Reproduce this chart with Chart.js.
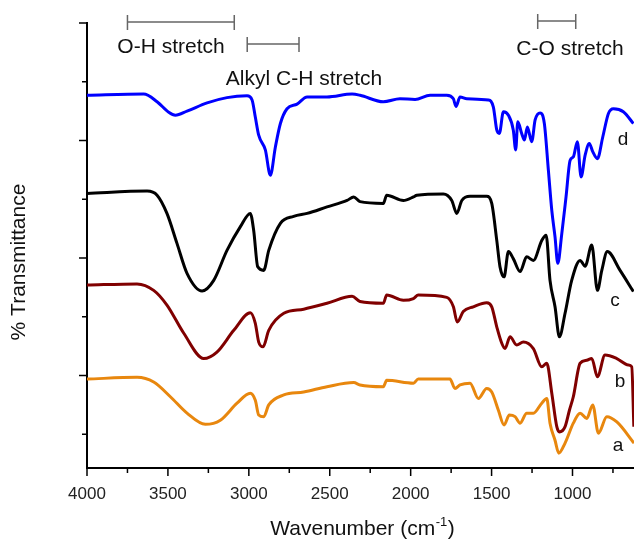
<!DOCTYPE html>
<html>
<head>
<meta charset="utf-8">
<script src="https://cdn.jsdelivr.net/npm/chart.js@4.4.0/dist/chart.umd.min.js"></script>
<style>
  html, body { margin: 0; padding: 0; background: #fff; }
</style>
</head>
<body>
<canvas id="ftir" width="634" height="539"></canvas>
<script>
// ===== FTIR spectra a-d =====
const wnA = [4000,3691,3588,3485,3382,3269,3176,3073,2991,2960,2939,2908,2877,2784,2661,2517,2352,2313,2169,2148,1983,1953,1757,1726,1695,1633,1582,1530,1499,1458,1423,1390,1355,1324,1283,1242,1190,1159,1139,1108,1085,1046,995,953,912,875,840,788,726,620];
const tA = [19.4,19.7,18.9,16.4,13.6,11.7,12.4,15.3,17.0,15.8,13.3,13.0,15.0,16.7,17.2,18.1,18.8,18.4,18.1,19.2,18.7,19.4,19.4,17.8,18.4,18.7,16.1,17.8,17.2,14.1,11.6,13.3,13.0,11.9,13.6,13.6,15.3,16.1,11.9,9.0,6.8,8.5,11.9,13.6,12.7,15.0,10.2,13.0,12.1,8.5];

const wnB = [4000,3691,3588,3506,3402,3279,3197,3093,2991,2960,2939,2912,2877,2784,2661,2517,2362,2313,2169,2148,2045,1983,1953,1777,1736,1712,1675,1613,1530,1499,1468,1437,1417,1386,1345,1304,1242,1190,1159,1128,1097,1081,1046,1019,995,953,912,881,846,799,726,655,634,621];
const tB = [35.4,35.6,34.5,32.0,27.2,22.9,24.0,27.7,30.7,28.9,25.7,24.9,27.7,30.6,31.3,32.3,33.5,32.6,32.3,33.7,32.8,33.1,33.7,33.3,31.7,29.1,30.9,31.7,32.4,31.7,28.3,25.5,24.6,26.6,25.2,25.7,24.6,21.5,22.1,17.0,11.3,10.4,11.3,14.1,16.4,22.1,22.6,22.9,19.8,23.5,22.9,21.8,21.5,11.3];

const wnC = [4000,3629,3567,3506,3444,3382,3289,3217,3135,3053,2991,2970,2945,2908,2877,2805,2723,2640,2517,2393,2352,2313,2169,2148,2045,1983,1962,1798,1746,1715,1684,1633,1530,1499,1468,1448,1423,1396,1366,1324,1283,1242,1190,1163,1139,1108,1081,1046,1005,953,922,881,846,819,785,706,624];
const tC = [51.0,51.4,50.7,47.6,42.5,37.4,34.4,36.2,41.3,45.3,47.6,44.7,38.5,37.9,41.3,45.9,47.1,47.6,48.7,49.8,50.4,49.6,49.3,50.7,49.8,50.4,50.7,50.9,49.8,47.6,49.8,50.5,50.5,49.3,43.0,38.5,36.8,41.1,39.9,37.7,40.2,39.6,43.0,43.9,36.2,31.7,26.6,30.6,36.2,39.6,38.6,42.2,34.5,37.9,41.1,37.9,34.3];

const wnD = [4000,3650,3567,3495,3454,3382,3258,3135,3011,2980,2960,2939,2898,2867,2836,2805,2764,2702,2640,2517,2362,2313,2169,2066,1973,1880,1777,1736,1720,1695,1653,1520,1489,1468,1452,1427,1396,1366,1351,1338,1314,1297,1279,1252,1231,1200,1174,1149,1128,1108,1091,1066,1040,1015,995,970,947,922,896,875,846,813,778,747,686,624];
const tD = [67.7,67.9,66.6,64.8,64.3,65.0,66.4,67.3,67.6,66.9,64.0,60.9,58.4,54.1,58.9,62.9,65.4,66.2,67.4,67.4,67.9,67.7,66.6,67.1,67.0,67.7,67.7,67.1,65.8,67.4,67.1,66.9,65.7,61.8,61.2,64.9,64.3,61.8,58.4,63.2,61.2,60.1,62.3,59.8,63.5,64.7,62.9,54.9,48.1,43.6,39.1,44.2,50.4,56.6,57.2,59.8,53.8,57.5,59.5,58.1,56.9,60.6,64.6,65.4,64.9,62.9];

const seriesLabels = ['a', 'b', 'c', 'd'];
const seriesColors = ['#e8870e', '#800000', '#000000', '#0000ff'];

const xTicks = [4000, 3500, 3000, 2500, 2000, 1500, 1000];

// band brackets (cm-1)
const bandNames = ['O-H stretch', 'Alkyl C-H stretch', 'C-O stretch'];
const bandFrom = [3750, 3010, 1215];
const bandTo = [3090, 2690, 980];

const FONT = "'Liberation Sans', Arial, sans-serif";

const pts = (xs, ys) => xs.map((v, i) => ({ x: v, y: ys[i] }));

// axis ticks, titles, band brackets and curve letters
const overlay = {
  id: 'overlay',
  afterDraw(chart) {
    const { ctx, chartArea: a, scales: { x, y } } = chart;
    ctx.save();
    ctx.strokeStyle = '#000';
    ctx.lineWidth = 1.5;
    ctx.beginPath();
    for (let v = 4000; v >= 750; v -= 250) {
      const px = x.getPixelForValue(v);
      const len = v % 500 === 0 ? 8 : 5;
      ctx.moveTo(px, a.bottom); ctx.lineTo(px, a.bottom + len);
    }
    for (let v = 80; v >= 10; v -= 10) {
      const py = y.getPixelForValue(v);
      const len = v % 20 === 0 ? 8 : 5;
      ctx.moveTo(a.left - len, py); ctx.lineTo(a.left, py);
    }
    ctx.stroke();

    // band brackets
    const brY = [22, 44, 21];
    const txY = [53, 85, 55];
    ctx.strokeStyle = '#666';
    ctx.lineWidth = 1.5;
    ctx.fillStyle = '#111';
    ctx.font = `21px ${FONT}`;
    ctx.textBaseline = 'alphabetic';
    ctx.textAlign = 'center';
    const txX = [171, 304, 570];
    bandNames.forEach((name, i) => {
      const x1 = x.getPixelForValue(bandFrom[i]);
      const x2 = x.getPixelForValue(bandTo[i]);
      ctx.beginPath();
      ctx.moveTo(x1, brY[i]); ctx.lineTo(x2, brY[i]);
      ctx.moveTo(x1, brY[i] - 7); ctx.lineTo(x1, brY[i] + 8);
      ctx.moveTo(x2, brY[i] - 7); ctx.lineTo(x2, brY[i] + 8);
      ctx.stroke();
      ctx.fillText(name, txX[i], txY[i]);
    });

    // curve letters
    ctx.font = `19px ${FONT}`;
    ctx.textBaseline = 'middle';
    const lx = [618, 620, 615, 623];
    const ly = [446, 382, 301, 140];
    seriesLabels.forEach((s, i) => ctx.fillText(s, lx[i], ly[i]));

    // y title
    ctx.save();
    ctx.translate(19, 262);
    ctx.rotate(-Math.PI / 2);
    ctx.font = `21px ${FONT}`;
    ctx.fillText('% Transmittance', 0, 0);
    ctx.restore();

    // x title with superscript
    ctx.textAlign = 'left';
    ctx.textBaseline = 'alphabetic';
    const main = 'Wavenumber (cm';
    ctx.font = `21px ${FONT}`;
    const w1 = ctx.measureText(main).width;
    const w3 = ctx.measureText(')').width;
    ctx.font = `13px ${FONT}`;
    const w2 = ctx.measureText('-1').width;
    const start = 362 - (w1 + w2 + w3) / 2;
    const base = 535;
    ctx.font = `21px ${FONT}`;
    ctx.fillText(main, start, base);
    ctx.fillText(')', start + w1 + w2 + 1, base);
    ctx.font = `13px ${FONT}`;
    ctx.fillText('-1', start + w1 + 0.5, base - 9);
    ctx.restore();
  }
};

new Chart(document.getElementById('ftir'), {
  type: 'line',
  data: {
    datasets: [
      { label: 'a', data: pts(wnA, tA) },
      { label: 'b', data: pts(wnB, tB) },
      { label: 'c', data: pts(wnC, tC) },
      { label: 'd', data: pts(wnD, tD) }
    ].map((ds, i) => ({
      ...ds,
      borderColor: seriesColors[i],
      borderWidth: 3,
      pointRadius: 0,
      fill: false,
      cubicInterpolationMode: 'monotone'
    }))
  },
  options: {
    responsive: false,
    animation: false,
    devicePixelRatio: 1,
    layout: { padding: { left: 87, top: 23, right: 0, bottom: 0 } },
    plugins: { legend: { display: false }, tooltip: { enabled: false } },
    scales: {
      x: {
        type: 'linear',
        reverse: true,
        min: 620,
        max: 4000,
        grid: { display: false, drawTicks: true, tickLength: 8 },
        border: { display: true, color: '#000', width: 2 },
        ticks: {
          autoSkip: false,
          maxRotation: 0,
          padding: 8,
          color: '#222',
          font: { family: FONT, size: 17 },
          callback: v => String(v)
        },
        afterBuildTicks: s => { s.ticks = xTicks.map(v => ({ value: v })); },
        afterFit: s => { s.height = 71; }
      },
      y: {
        min: 4.27,
        max: 80,
        grid: { display: false, drawTicks: false },
        border: { display: true, color: '#000', width: 2 },
        ticks: { display: false },
        afterFit: s => { s.width = 0; }
      }
    }
  },
  plugins: [overlay]
});
</script>
</body>
</html>
